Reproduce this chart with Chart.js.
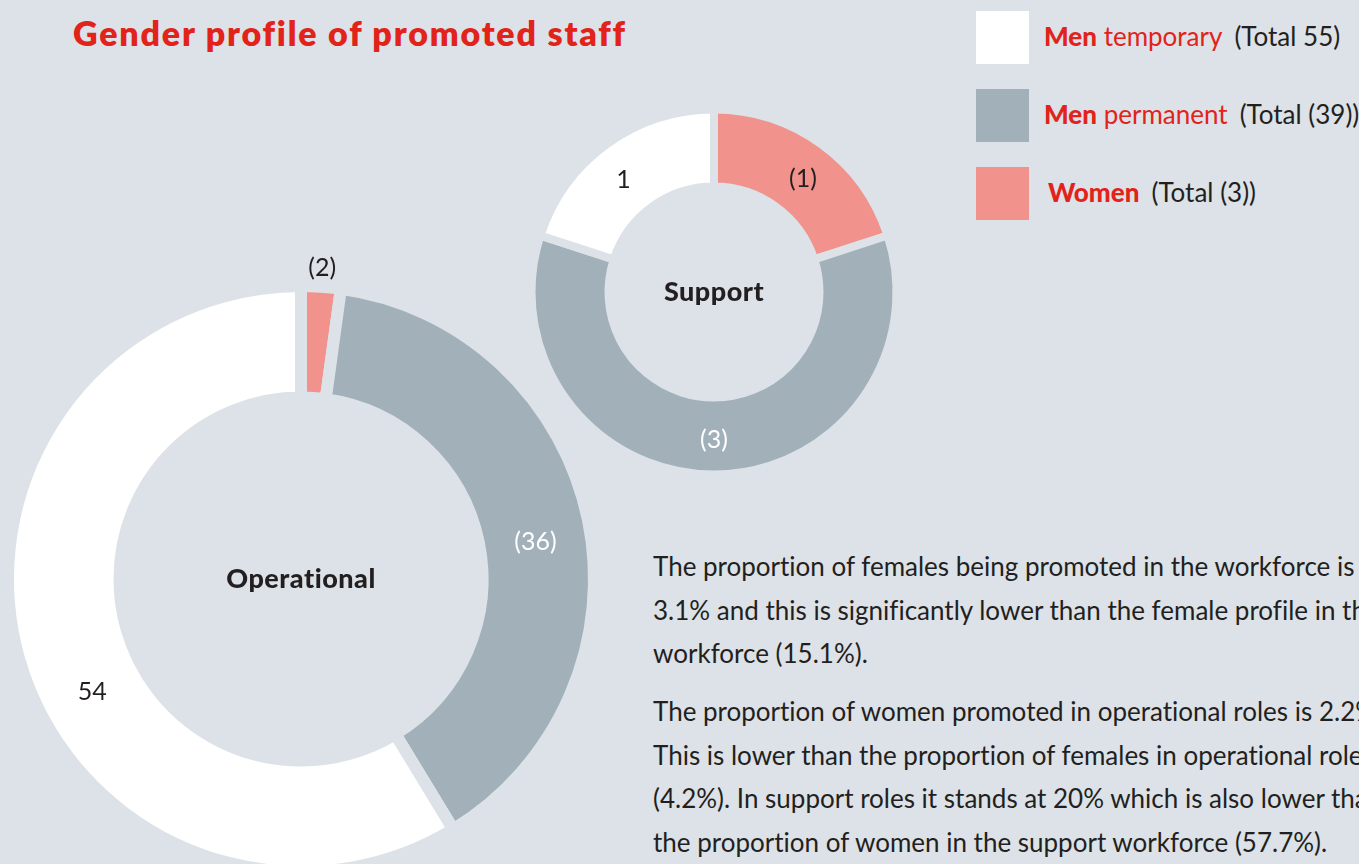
<!DOCTYPE html>
<html>
<head>
<meta charset="utf-8">
<title>Gender profile of promoted staff</title>
<script src="https://cdn.jsdelivr.net/npm/chart.js@4.4.0/dist/chart.umd.min.js"></script>
<style>
  html, body { margin: 0; padding: 0; }
  body {
    width: 1359px; height: 864px; overflow: hidden; position: relative;
    background: #dce2e7; color: #231f20; font-family: Lato, "Open Sans", sans-serif;
    font-variant-ligatures: none;
  }
  .title {
    position: absolute; left: 73px; top: 12px; white-space: nowrap;
    font-size: 34px; font-weight: 800; letter-spacing: 1.8px; color: #e2231a;
  }
  canvas { position: absolute; }
  #operational { left: -29px; top: 249px; }
  #support { left: 524px; top: 102px; }
  .legend-row {
    position: absolute; left: 976px; display: flex; align-items: center;
    white-space: nowrap; font-size: 26px;
  }
  .legend-row span { position: relative; top: -2px; }
  .swatch { width: 53px; height: 53px; margin-right: 15px; }
  .legend-row .name { color: #e2231a; margin-right: 12px; }
  .legend-row .name b { font-weight: 900; }
  .notes {
    position: absolute; left: 653px; top: 545px; font-size: 26px;
    line-height: 43.5px; white-space: nowrap;
  }
  .notes p { margin: 0 0 14.5px 0; }
</style>
</head>
<body>
<div class="title">Gender profile of promoted staff</div>
<canvas id="support" width="380" height="380"></canvas>
<canvas id="operational" width="660" height="660"></canvas>
<div id="legend"></div>
<div class="notes">
  <p>The proportion of females being promoted in the workforce is<br>3.1% and this is significantly lower than the female profile in the<br>workforce (15.1%).</p>
  <p>The proportion of women promoted in operational roles is 2.2%.<br>This is lower than the proportion of females in operational roles<br>(4.2%). In support roles it stands at 20% which is also lower than<br>the proportion of women in the support workforce (57.7%).</p>
</div>
<script>
// data
const categories = ["Women", "Men permanent", "Men temporary"];
const operationalValues = [2, 36, 54];
const supportValues = [1, 3, 1];
const bracketed = [true, true, false]; // permanent and women figures are shown in brackets
const sliceColors = ["#f1938c", "#a1b0b9", "#ffffff"];
const bg = "#dce2e7";
const dark = "#231f20";

function fmt(v, i) {
  return bracketed[i] ? "(" + v + ")" : String(v);
}

// legend (temporary first, women last)
const legendOrder = [2, 1, 0];
const legendTops = [11, 89, 167];
let legendHtml = "";
legendOrder.forEach((i, row) => {
  const words = categories[i].split(" ");
  const total = operationalValues[i] + supportValues[i];
  legendHtml += `<div class="legend-row" style="top:${legendTops[row]}px">
      <div class="swatch" style="background:${sliceColors[i]}"></div>
      <span class="name" style="${i === 0 ? 'margin-left:4px' : ''}"><b>${words[0]}</b>${words.length > 1 ? ' ' + words.slice(1).join(' ') : ''}</span>
      <span>(Total ${fmt(total, i)})</span>
    </div>`;
});
document.getElementById("legend").innerHTML = legendHtml;

// labels on the slices + name in the hole
const sliceLabels = {
  id: "sliceLabels",
  afterDatasetsDraw(chart, args, opts) {
    const ctx = chart.ctx;
    const meta = chart.getDatasetMeta(0);
    const values = chart.data.datasets[0].data;
    ctx.save();
    ctx.textAlign = "center";
    ctx.textBaseline = "middle";
    ctx.font = opts.font;
    meta.data.forEach((arc, i) => {
      const p = arc.getProps(["x", "y", "startAngle", "endAngle", "innerRadius", "outerRadius"], true);
      const a = p.startAngle + (p.endAngle - p.startAngle) * opts.along[i];
      const r = opts.outside[i] ? p.outerRadius + opts.outsideGap : (p.innerRadius + p.outerRadius) / 2 + opts.shift[i];
      ctx.fillStyle = opts.colors[i];
      ctx.fillText(fmt(values[i], i), p.x + Math.cos(a) * r, p.y + Math.sin(a) * r);
    });
    ctx.font = opts.centerFont;
    ctx.letterSpacing = "0.5px";
    ctx.fillStyle = dark;
    ctx.fillText(opts.centerText, meta.data[0].x, meta.data[0].y);
    ctx.restore();
  }
};

function donut(id, values, radius, inner, gap, labelOpts) {
  return new Chart(document.getElementById(id), {
    type: "doughnut",
    data: {
      labels: categories,
      datasets: [{
        data: values,
        backgroundColor: sliceColors,
        borderColor: bg,
        borderWidth: gap,
        borderJoinStyle: "miter",
        hoverOffset: 0
      }]
    },
    options: {
      responsive: false,
      animation: false,
      events: [],
      radius: radius,
      cutout: (inner / radius * 100) + "%",
      layout: { padding: 0 },
      plugins: {
        legend: { display: false },
        tooltip: { enabled: false },
        sliceLabels: labelOpts
      }
    },
    plugins: [sliceLabels]
  });
}

donut("operational", operationalValues, 293, 181.5, 12, {
  font: "400 25px Lato",
  colors: [dark, "#ffffff", dark],
  outside: [true, false, false],
  shift: [0, 0, 0],
  outsideGap: 19,
  along: [0.5, 0.52, 0.44],
  centerText: "Operational",
  centerFont: "900 27px Lato"
});

donut("support", supportValues, 182.5, 105.5, 8, {
  font: "400 25px Lato",
  colors: [dark, "#ffffff", dark],
  outside: [false, false, false],
  shift: [0, 4, 0],
  outsideGap: 0,
  along: [0.53, 0.5, 0.46],
  centerText: "Support",
  centerFont: "900 27px Lato"
});
</script>
</body>
</html>
